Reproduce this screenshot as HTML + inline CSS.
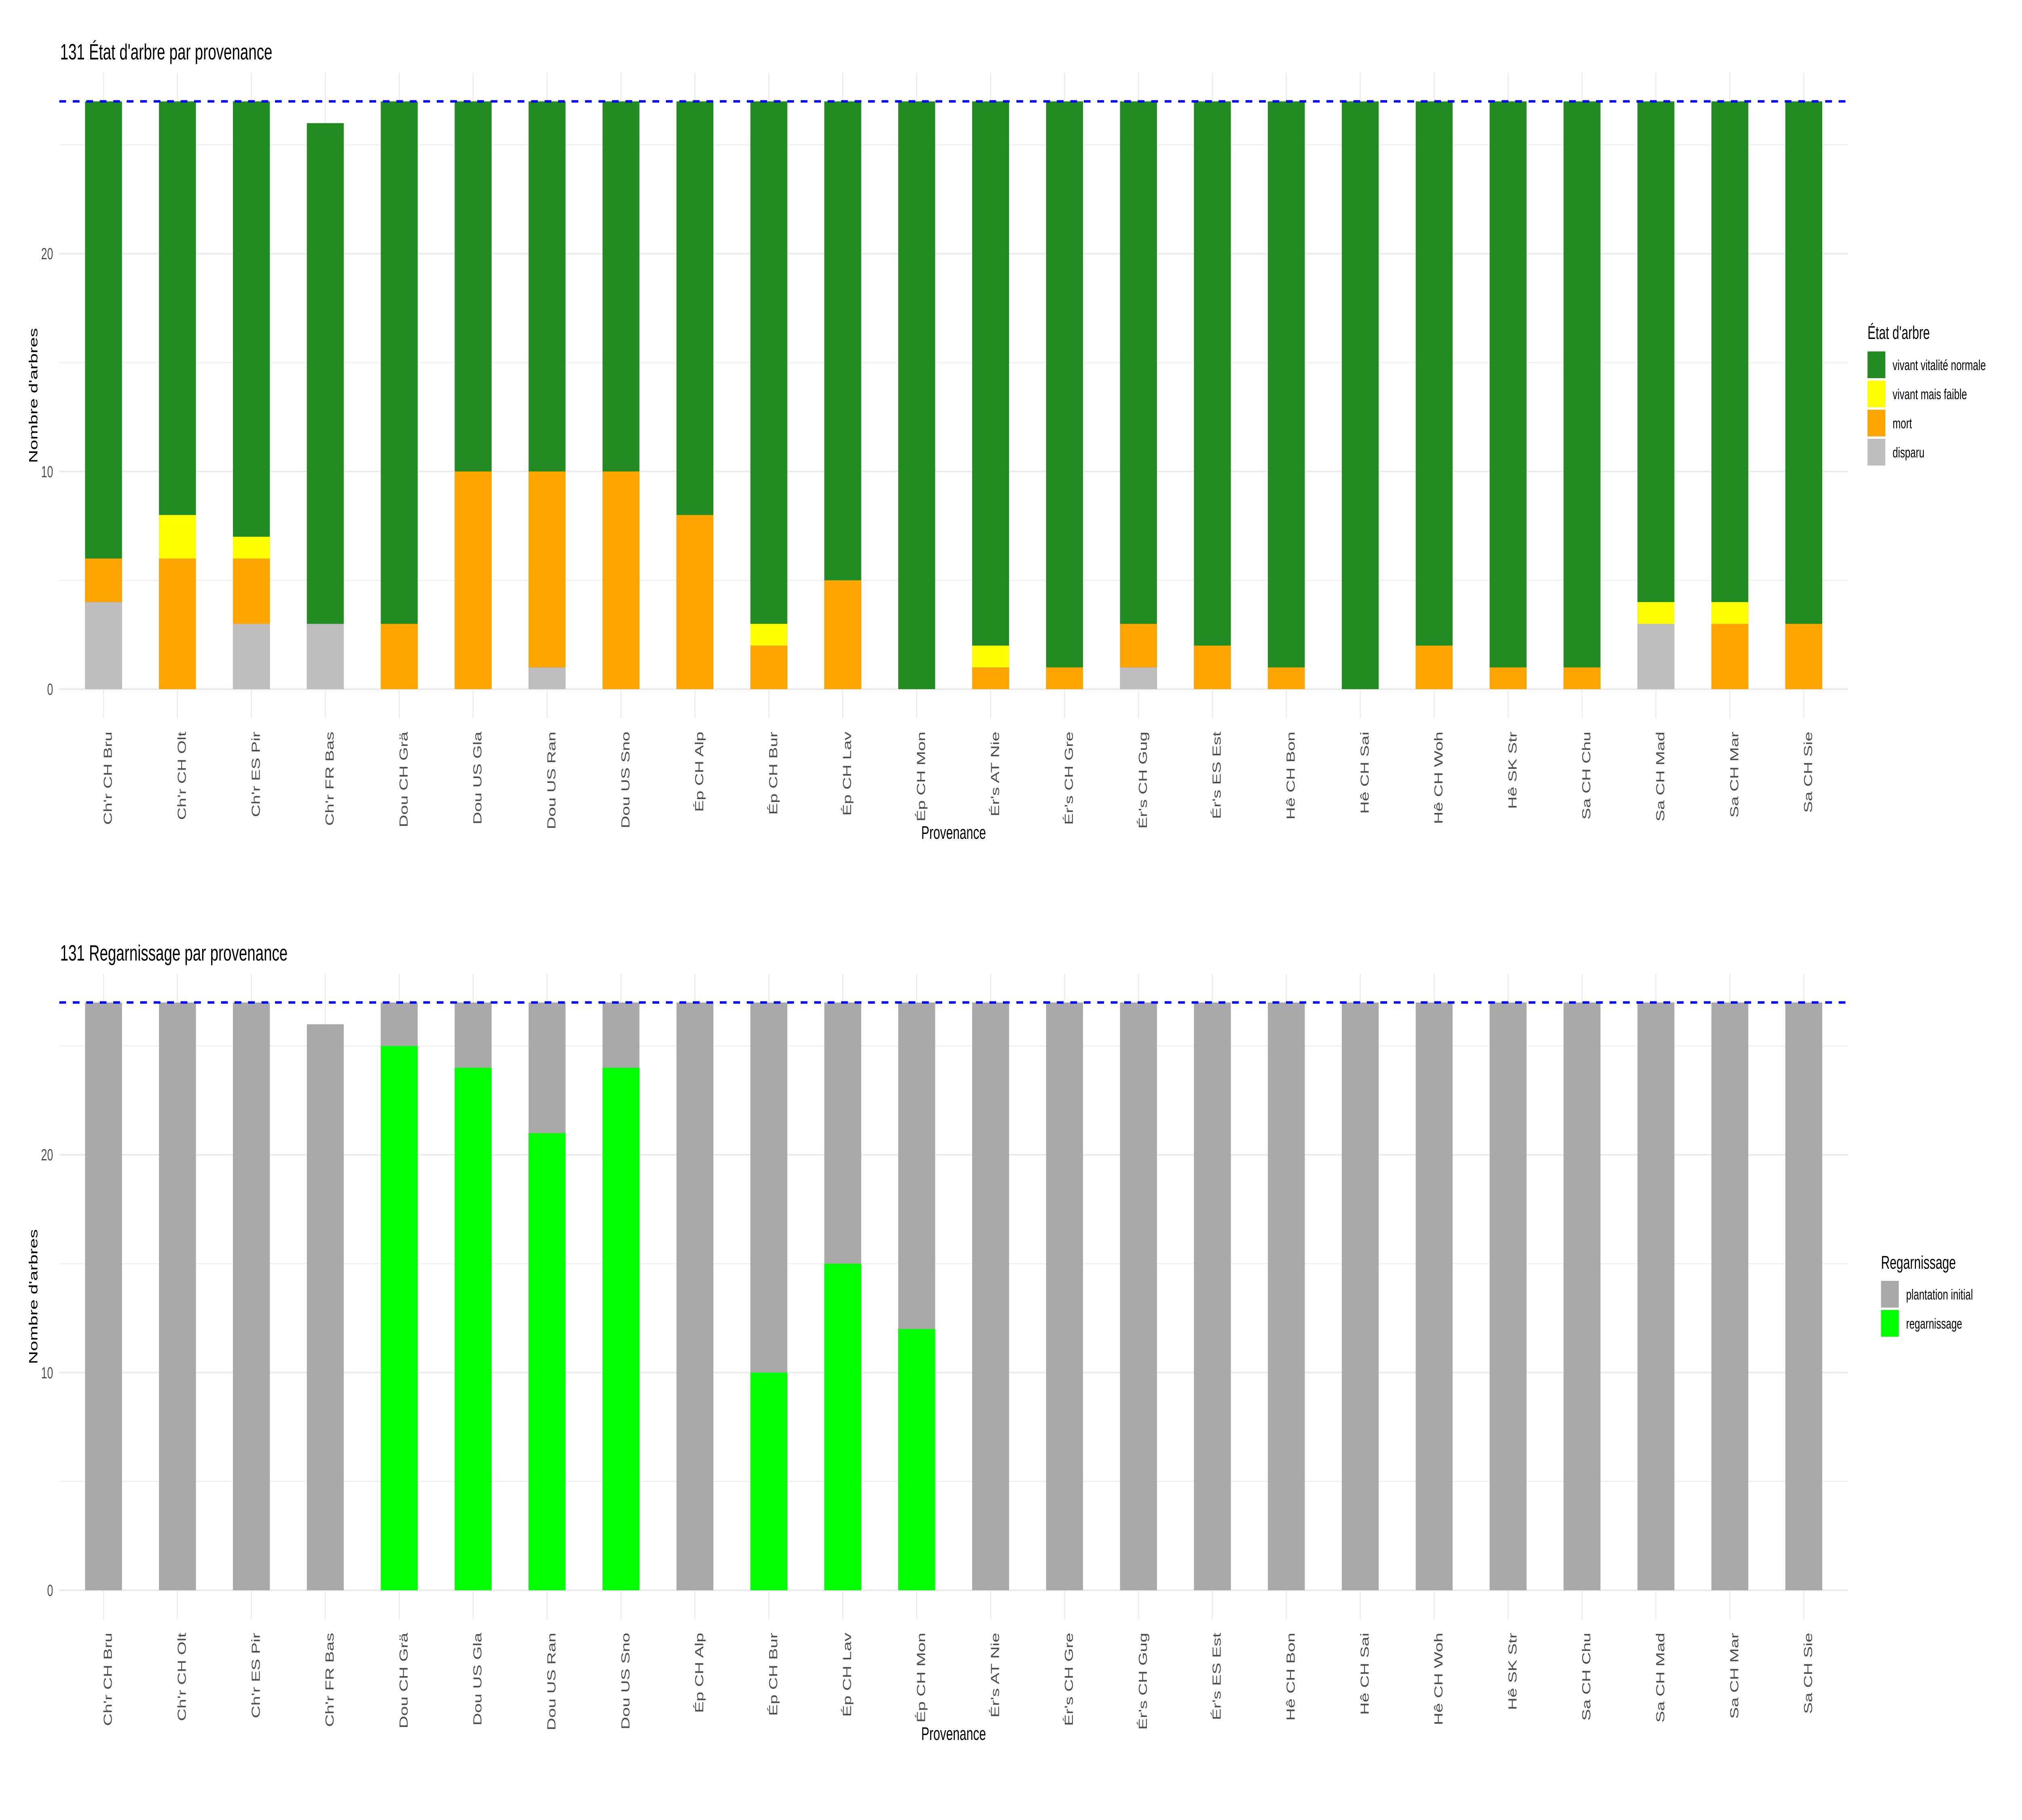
<!DOCTYPE html>
<html><head><meta charset="utf-8"><style>html,body{margin:0;padding:0;background:#fff;overflow:hidden;width:100%;height:100%}svg{display:block;position:fixed;left:0;top:0;width:100vw;height:100vh}</style></head>
<body>
<svg xmlns="http://www.w3.org/2000/svg" viewBox="0 0 7500 4500" preserveAspectRatio="none" font-family="Liberation Sans, Arial, sans-serif">
<rect width="7500" height="4500" fill="#fff"/>

<!-- ================= PANEL 1 ================= -->
<g stroke="#EBEBEB">
<g stroke-width="2">
<line x1="220" x2="6855" y1="1434.9" y2="1434.9"/><line x1="220" x2="6855" y1="896.6" y2="896.6"/><line x1="220" x2="6855" y1="358.3" y2="358.3"/>
</g>
<g stroke-width="4">
<line x1="220" x2="6855" y1="1704" y2="1704"/><line x1="220" x2="6855" y1="1165.7" y2="1165.7"/><line x1="220" x2="6855" y1="627.4" y2="627.4"/>
<line x1="384" x2="384" y1="180" y2="1776"/><line x1="658.2" x2="658.2" y1="180" y2="1776"/><line x1="932.4" x2="932.4" y1="180" y2="1776"/><line x1="1206.6" x2="1206.6" y1="180" y2="1776"/><line x1="1480.8" x2="1480.8" y1="180" y2="1776"/><line x1="1755" x2="1755" y1="180" y2="1776"/><line x1="2029.2" x2="2029.2" y1="180" y2="1776"/><line x1="2303.4" x2="2303.4" y1="180" y2="1776"/><line x1="2577.6" x2="2577.6" y1="180" y2="1776"/><line x1="2851.8" x2="2851.8" y1="180" y2="1776"/><line x1="3126" x2="3126" y1="180" y2="1776"/><line x1="3400.2" x2="3400.2" y1="180" y2="1776"/><line x1="3674.4" x2="3674.4" y1="180" y2="1776"/><line x1="3948.6" x2="3948.6" y1="180" y2="1776"/><line x1="4222.8" x2="4222.8" y1="180" y2="1776"/><line x1="4497" x2="4497" y1="180" y2="1776"/><line x1="4771.2" x2="4771.2" y1="180" y2="1776"/><line x1="5045.4" x2="5045.4" y1="180" y2="1776"/><line x1="5319.6" x2="5319.6" y1="180" y2="1776"/><line x1="5593.8" x2="5593.8" y1="180" y2="1776"/><line x1="5868" x2="5868" y1="180" y2="1776"/><line x1="6142.2" x2="6142.2" y1="180" y2="1776"/><line x1="6416.4" x2="6416.4" y1="180" y2="1776"/><line x1="6690.6" x2="6690.6" y1="180" y2="1776"/>
</g></g>

<g transform="translate(0,1704) scale(1,-53.83)">
<g fill="#228B22">
<rect x="315.5" y="0" width="137" height="27"/><rect x="589.7" y="0" width="137" height="27"/><rect x="863.9" y="0" width="137" height="27"/><rect x="1138.1" y="0" width="137" height="26"/><rect x="1412.3" y="0" width="137" height="27"/><rect x="1686.5" y="0" width="137" height="27"/><rect x="1960.7" y="0" width="137" height="27"/><rect x="2234.9" y="0" width="137" height="27"/><rect x="2509.1" y="0" width="137" height="27"/><rect x="2783.3" y="0" width="137" height="27"/><rect x="3057.5" y="0" width="137" height="27"/><rect x="3331.7" y="0" width="137" height="27"/><rect x="3605.9" y="0" width="137" height="27"/><rect x="3880.1" y="0" width="137" height="27"/><rect x="4154.3" y="0" width="137" height="27"/><rect x="4428.5" y="0" width="137" height="27"/><rect x="4702.7" y="0" width="137" height="27"/><rect x="4976.9" y="0" width="137" height="27"/><rect x="5251.1" y="0" width="137" height="27"/><rect x="5525.3" y="0" width="137" height="27"/><rect x="5799.5" y="0" width="137" height="27"/><rect x="6073.7" y="0" width="137" height="27"/><rect x="6347.9" y="0" width="137" height="27"/><rect x="6622.1" y="0" width="137" height="27"/>
</g>
<g fill="#FFFF00">
<rect x="589.7" y="6" width="137" height="2"/><rect x="863.9" y="6" width="137" height="1"/><rect x="2783.3" y="2" width="137" height="1"/><rect x="3605.9" y="1" width="137" height="1"/><rect x="6073.7" y="3" width="137" height="1"/><rect x="6347.9" y="3" width="137" height="1"/>
</g>
<g fill="#FFA500">
<rect x="315.5" y="4" width="137" height="2"/><rect x="589.7" y="0" width="137" height="6"/><rect x="863.9" y="3" width="137" height="3"/><rect x="1412.3" y="0" width="137" height="3"/><rect x="1686.5" y="0" width="137" height="10"/><rect x="1960.7" y="1" width="137" height="9"/><rect x="2234.9" y="0" width="137" height="10"/><rect x="2509.1" y="0" width="137" height="8"/><rect x="2783.3" y="0" width="137" height="2"/><rect x="3057.5" y="0" width="137" height="5"/><rect x="3605.9" y="0" width="137" height="1"/><rect x="3880.1" y="0" width="137" height="1"/><rect x="4154.3" y="1" width="137" height="2"/><rect x="4428.5" y="0" width="137" height="2"/><rect x="4702.7" y="0" width="137" height="1"/><rect x="5251.1" y="0" width="137" height="2"/><rect x="5525.3" y="0" width="137" height="1"/><rect x="5799.5" y="0" width="137" height="1"/><rect x="6347.9" y="0" width="137" height="3"/><rect x="6622.1" y="0" width="137" height="3"/>
</g>
<g fill="#BEBEBE">
<rect x="315.5" y="0" width="137" height="4"/><rect x="863.9" y="0" width="137" height="3"/><rect x="1138.1" y="0" width="137" height="3"/><rect x="1960.7" y="0" width="137" height="1"/><rect x="4154.3" y="0" width="137" height="1"/><rect x="6073.7" y="0" width="137" height="3"/>
</g>
</g>
<line x1="220" x2="6855" y1="250.6" y2="250.6" stroke="#0000FF" stroke-width="6" stroke-dasharray="25 25"/>

<g font-size="40" fill="#4D4D4D" text-anchor="end">
<text x="197" y="1718">0</text><text x="197" y="1180">10</text><text x="197" y="641">20</text>
</g>
<text x="223" y="147" font-size="55" fill="#000">131 État d'arbre par provenance</text>
<text transform="translate(139,978) rotate(-90)" text-anchor="middle" font-size="45" fill="#000">Nombre d'arbres</text>
<text x="3537" y="2074" text-anchor="middle" font-size="45" fill="#000">Provenance</text>

<g font-size="43" fill="#4D4D4D" text-anchor="end">
<text transform="translate(415,1809) rotate(-90)">Ch'r CH Bru</text>
<text transform="translate(689.2,1809) rotate(-90)">Ch'r CH Olt</text>
<text transform="translate(963.4,1809) rotate(-90)">Ch'r ES Pir</text>
<text transform="translate(1237.6,1809) rotate(-90)">Ch'r FR Bas</text>
<text transform="translate(1511.8,1809) rotate(-90)">Dou CH Grä</text>
<text transform="translate(1786,1809) rotate(-90)">Dou US Gla</text>
<text transform="translate(2060.2,1809) rotate(-90)">Dou US Ran</text>
<text transform="translate(2334.4,1809) rotate(-90)">Dou US Sno</text>
<text transform="translate(2608.6,1809) rotate(-90)">Ép CH Alp</text>
<text transform="translate(2882.8,1809) rotate(-90)">Ép CH Bur</text>
<text transform="translate(3157,1809) rotate(-90)">Ép CH Lav</text>
<text transform="translate(3431.2,1809) rotate(-90)">Ép CH Mon</text>
<text transform="translate(3705.4,1809) rotate(-90)">Ér's AT Nie</text>
<text transform="translate(3979.6,1809) rotate(-90)">Ér's CH Gre</text>
<text transform="translate(4253.8,1809) rotate(-90)">Ér's CH Gug</text>
<text transform="translate(4528,1809) rotate(-90)">Ér's ES Est</text>
<text transform="translate(4802.2,1809) rotate(-90)">Hê CH Bon</text>
<text transform="translate(5076.4,1809) rotate(-90)">Hê CH Sai</text>
<text transform="translate(5350.6,1809) rotate(-90)">Hê CH Woh</text>
<text transform="translate(5624.8,1809) rotate(-90)">Hê SK Str</text>
<text transform="translate(5899,1809) rotate(-90)">Sa CH Chu</text>
<text transform="translate(6173.2,1809) rotate(-90)">Sa CH Mad</text>
<text transform="translate(6447.4,1809) rotate(-90)">Sa CH Mar</text>
<text transform="translate(6721.6,1809) rotate(-90)">Sa CH Sie</text>
</g>

<!-- legend 1 -->
<text x="6927" y="838" font-size="45" fill="#000">État d'arbre</text>
<rect x="6927" y="869" width="66" height="66" fill="#228B22"/>
<rect x="6927" y="941" width="66" height="66" fill="#FFFF00"/>
<rect x="6927" y="1013" width="66" height="66" fill="#FFA500"/>
<rect x="6927" y="1085" width="66" height="66" fill="#BEBEBE"/>
<g font-size="36" fill="#000">
<text x="7020" y="915">vivant vitalité normale</text>
<text x="7020" y="987">vivant mais faible</text>
<text x="7020" y="1059">mort</text>
<text x="7020" y="1131">disparu</text>
</g>

<!-- ================= PANEL 2 ================= -->
<g stroke="#EBEBEB">
<g stroke-width="2">
<line x1="220" x2="6855" y1="3662.9" y2="3662.9"/><line x1="220" x2="6855" y1="3124.6" y2="3124.6"/><line x1="220" x2="6855" y1="2586.3" y2="2586.3"/>
</g>
<g stroke-width="4">
<line x1="220" x2="6855" y1="3932" y2="3932"/><line x1="220" x2="6855" y1="3393.7" y2="3393.7"/><line x1="220" x2="6855" y1="2855.4" y2="2855.4"/>
<line x1="384" x2="384" y1="2408" y2="4004"/><line x1="658.2" x2="658.2" y1="2408" y2="4004"/><line x1="932.4" x2="932.4" y1="2408" y2="4004"/><line x1="1206.6" x2="1206.6" y1="2408" y2="4004"/><line x1="1480.8" x2="1480.8" y1="2408" y2="4004"/><line x1="1755" x2="1755" y1="2408" y2="4004"/><line x1="2029.2" x2="2029.2" y1="2408" y2="4004"/><line x1="2303.4" x2="2303.4" y1="2408" y2="4004"/><line x1="2577.6" x2="2577.6" y1="2408" y2="4004"/><line x1="2851.8" x2="2851.8" y1="2408" y2="4004"/><line x1="3126" x2="3126" y1="2408" y2="4004"/><line x1="3400.2" x2="3400.2" y1="2408" y2="4004"/><line x1="3674.4" x2="3674.4" y1="2408" y2="4004"/><line x1="3948.6" x2="3948.6" y1="2408" y2="4004"/><line x1="4222.8" x2="4222.8" y1="2408" y2="4004"/><line x1="4497" x2="4497" y1="2408" y2="4004"/><line x1="4771.2" x2="4771.2" y1="2408" y2="4004"/><line x1="5045.4" x2="5045.4" y1="2408" y2="4004"/><line x1="5319.6" x2="5319.6" y1="2408" y2="4004"/><line x1="5593.8" x2="5593.8" y1="2408" y2="4004"/><line x1="5868" x2="5868" y1="2408" y2="4004"/><line x1="6142.2" x2="6142.2" y1="2408" y2="4004"/><line x1="6416.4" x2="6416.4" y1="2408" y2="4004"/><line x1="6690.6" x2="6690.6" y1="2408" y2="4004"/>
</g></g>

<g transform="translate(0,3932) scale(1,-53.83)">
<g fill="#A9A9A9">
<rect x="315.5" y="0" width="137" height="27"/><rect x="589.7" y="0" width="137" height="27"/><rect x="863.9" y="0" width="137" height="27"/><rect x="1138.1" y="0" width="137" height="26"/><rect x="1412.3" y="0" width="137" height="27"/><rect x="1686.5" y="0" width="137" height="27"/><rect x="1960.7" y="0" width="137" height="27"/><rect x="2234.9" y="0" width="137" height="27"/><rect x="2509.1" y="0" width="137" height="27"/><rect x="2783.3" y="0" width="137" height="27"/><rect x="3057.5" y="0" width="137" height="27"/><rect x="3331.7" y="0" width="137" height="27"/><rect x="3605.9" y="0" width="137" height="27"/><rect x="3880.1" y="0" width="137" height="27"/><rect x="4154.3" y="0" width="137" height="27"/><rect x="4428.5" y="0" width="137" height="27"/><rect x="4702.7" y="0" width="137" height="27"/><rect x="4976.9" y="0" width="137" height="27"/><rect x="5251.1" y="0" width="137" height="27"/><rect x="5525.3" y="0" width="137" height="27"/><rect x="5799.5" y="0" width="137" height="27"/><rect x="6073.7" y="0" width="137" height="27"/><rect x="6347.9" y="0" width="137" height="27"/><rect x="6622.1" y="0" width="137" height="27"/>
</g>
<g fill="#00FF00">
<rect x="1412.3" y="0" width="137" height="25"/><rect x="1686.5" y="0" width="137" height="24"/><rect x="1960.7" y="0" width="137" height="21"/><rect x="2234.9" y="0" width="137" height="24"/><rect x="2783.3" y="0" width="137" height="10"/><rect x="3057.5" y="0" width="137" height="15"/><rect x="3331.7" y="0" width="137" height="12"/>
</g>
</g>
<line x1="220" x2="6855" y1="2478.6" y2="2478.6" stroke="#0000FF" stroke-width="6" stroke-dasharray="25 25"/>

<g font-size="40" fill="#4D4D4D" text-anchor="end">
<text x="197" y="3946">0</text><text x="197" y="3408">10</text><text x="197" y="2869">20</text>
</g>
<text x="223" y="2375" font-size="55" fill="#000">131 Regarnissage par provenance</text>
<text transform="translate(139,3206) rotate(-90)" text-anchor="middle" font-size="45" fill="#000">Nombre d'arbres</text>
<text x="3537" y="4302" text-anchor="middle" font-size="45" fill="#000">Provenance</text>

<g font-size="43" fill="#4D4D4D" text-anchor="end">
<text transform="translate(415,4037) rotate(-90)">Ch'r CH Bru</text>
<text transform="translate(689.2,4037) rotate(-90)">Ch'r CH Olt</text>
<text transform="translate(963.4,4037) rotate(-90)">Ch'r ES Pir</text>
<text transform="translate(1237.6,4037) rotate(-90)">Ch'r FR Bas</text>
<text transform="translate(1511.8,4037) rotate(-90)">Dou CH Grä</text>
<text transform="translate(1786,4037) rotate(-90)">Dou US Gla</text>
<text transform="translate(2060.2,4037) rotate(-90)">Dou US Ran</text>
<text transform="translate(2334.4,4037) rotate(-90)">Dou US Sno</text>
<text transform="translate(2608.6,4037) rotate(-90)">Ép CH Alp</text>
<text transform="translate(2882.8,4037) rotate(-90)">Ép CH Bur</text>
<text transform="translate(3157,4037) rotate(-90)">Ép CH Lav</text>
<text transform="translate(3431.2,4037) rotate(-90)">Ép CH Mon</text>
<text transform="translate(3705.4,4037) rotate(-90)">Ér's AT Nie</text>
<text transform="translate(3979.6,4037) rotate(-90)">Ér's CH Gre</text>
<text transform="translate(4253.8,4037) rotate(-90)">Ér's CH Gug</text>
<text transform="translate(4528,4037) rotate(-90)">Ér's ES Est</text>
<text transform="translate(4802.2,4037) rotate(-90)">Hê CH Bon</text>
<text transform="translate(5076.4,4037) rotate(-90)">Hê CH Sai</text>
<text transform="translate(5350.6,4037) rotate(-90)">Hê CH Woh</text>
<text transform="translate(5624.8,4037) rotate(-90)">Hê SK Str</text>
<text transform="translate(5899,4037) rotate(-90)">Sa CH Chu</text>
<text transform="translate(6173.2,4037) rotate(-90)">Sa CH Mad</text>
<text transform="translate(6447.4,4037) rotate(-90)">Sa CH Mar</text>
<text transform="translate(6721.6,4037) rotate(-90)">Sa CH Sie</text>
</g>

<!-- legend 2 -->
<text x="6977" y="3137" font-size="45" fill="#000">Regarnissage</text>
<rect x="6977" y="3167" width="66" height="66" fill="#A9A9A9"/>
<rect x="6977" y="3239" width="66" height="66" fill="#00FF00"/>
<g font-size="36" fill="#000">
<text x="7070" y="3213">plantation initial</text>
<text x="7070" y="3285">regarnissage</text>
</g>
</svg>
</body></html>
